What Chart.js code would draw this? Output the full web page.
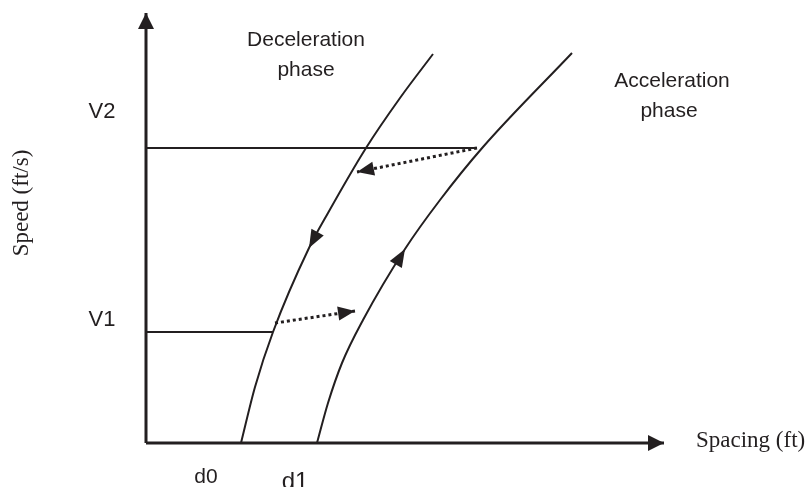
<!DOCTYPE html>
<html>
<head>
<meta charset="utf-8">
<script src="https://cdn.jsdelivr.net/npm/chart.js@4/dist/chart.umd.min.js"></script>
<style>
  html, body { margin: 0; padding: 0; background: #fff; }
  #wrap { width: 809px; height: 487px; position: relative; }
</style>
</head>
<body>
<div id="wrap"><canvas id="chart"></canvas></div>
<script>
// Spacing (x) vs speed (y) schematic.
// origin at the corner of the two axes.
var axisSpacing = [[0, 0], [518, 0]];
var axisSpeed = [[0, 0], [0, 430]];

var speedLabels = ['V1', 'V2'];
var speedLevels = [111, 295];
var spacingLabels = ['d0', 'd1'];

var v1Line = [[0, 111], [127, 111]];
var v2Line = [[0, 295], [331, 295]];

var decelCurve = [[95, 0], [109, 56], [127, 111], [163, 195], [182, 230], [220, 295], [254, 345], [287, 389]];
var accelCurve = [[171, 0], [182, 40], [196, 80], [217, 123], [259, 194], [294, 243], [337, 296], [426, 390]];

// dotted transitions between the two phases
var shiftDown = [[331, 295], [211, 271]];  // at V2, toward deceleration curve
var shiftUp = [[129, 120], [209, 132]];    // at V1, toward acceleration curve

var phaseTitles = ['Deceleration', 'phase', 'Acceleration', 'phase'];
var axisTitles = ['Spacing (ft)', 'Speed (ft/s)'];

var INK = '#231f20';

function pts(arr) {
  return arr.map(function(p) { return { x: p[0], y: p[1] }; });
}

function line(data, opts) {
  var ds = {
    data: pts(data),
    showLine: true,
    borderColor: INK,
    borderWidth: 2,
    pointRadius: 0,
    fill: false,
    tension: 0
  };
  for (var k in opts) ds[k] = opts[k];
  return ds;
}

// arrowheads drawn at a dataset point, pointing from `from` index to `at` index
var arrowPlugin = {
  id: 'arrows',
  afterDatasetsDraw: function(chart) {
    var ctx = chart.ctx;
    var xs = chart.scales.x, ys = chart.scales.y;
    chart.data.datasets.forEach(function(ds) {
      if (!ds.arrow) return;
      var a = ds.arrow;
      var tip = ds.data[a.at], prev = ds.data[a.from];
      var tx = xs.getPixelForValue(tip.x), ty = ys.getPixelForValue(tip.y);
      var px = xs.getPixelForValue(prev.x), py = ys.getPixelForValue(prev.y);
      var ang = Math.atan2(ty - py, tx - px);
      var bx = tx - Math.cos(ang) * a.len, by = ty - Math.sin(ang) * a.len;
      var nx = -Math.sin(ang) * a.width / 2, ny = Math.cos(ang) * a.width / 2;
      ctx.save();
      ctx.fillStyle = INK;
      ctx.beginPath();
      ctx.moveTo(tx, ty);
      ctx.lineTo(bx + nx, by + ny);
      ctx.lineTo(bx - nx, by - ny);
      ctx.closePath();
      ctx.fill();
      ctx.restore();
    });
  }
};

// text placed in data units through the scales
var sans = '"Liberation Sans", Arial, sans-serif';
var serif = '"Liberation Serif", "Times New Roman", serif';
var textItems = [
  { text: phaseTitles[0], x: 160, y: 397, font: '21px ' + sans, align: 'center' },
  { text: phaseTitles[1], x: 160, y: 367, font: '21px ' + sans, align: 'center' },
  { text: phaseTitles[2], x: 526, y: 356, font: '21px ' + sans, align: 'center' },
  { text: phaseTitles[3], x: 523, y: 326, font: '21px ' + sans, align: 'center' },
  { text: speedLabels[1], x: -44, y: speedLevels[1] + 30, font: '22px ' + sans, align: 'center' },
  { text: speedLabels[0], x: -44, y: speedLevels[0] + 6, font: '22px ' + sans, align: 'center' },
  { text: spacingLabels[0], x: 60, y: -40, font: '21px ' + sans, align: 'center' },
  { text: spacingLabels[1], x: 149, y: -46, font: '24px ' + sans, align: 'center' },
  { text: axisTitles[0], x: 550, y: -4, font: '23px ' + serif, align: 'left' },
  { text: axisTitles[1], x: -124, y: 240, font: '23px ' + serif, align: 'center', rotate: true }
];

var textPlugin = {
  id: 'texts',
  afterDraw: function(chart) {
    var ctx = chart.ctx;
    var xs = chart.scales.x, ys = chart.scales.y;
    textItems.forEach(function(t) {
      var x = xs.getPixelForValue(t.x), y = ys.getPixelForValue(t.y);
      ctx.save();
      ctx.fillStyle = INK;
      ctx.font = t.font;
      ctx.textAlign = t.align;
      if (t.rotate) {
        ctx.translate(x, y);
        ctx.rotate(-Math.PI / 2);
        ctx.textBaseline = 'middle';
        ctx.fillText(t.text, 0, 0);
      } else {
        ctx.textBaseline = 'alphabetic';
        ctx.fillText(t.text, x, y);
      }
      ctx.restore();
    });
  }
};

var datasets = [
  line(axisSpacing, { borderWidth: 3, arrow: { at: 1, from: 0, len: 16, width: 16 } }),
  line(axisSpeed, { borderWidth: 3, arrow: { at: 1, from: 0, len: 16, width: 16 } }),
  line(v1Line, {}),
  line(v2Line, {}),
  line(decelCurve, { cubicInterpolationMode: 'monotone', arrow: { at: 3, from: 4, len: 18, width: 14 } }),
  line(accelCurve, { cubicInterpolationMode: 'monotone', arrow: { at: 4, from: 3, len: 18, width: 14 } }),
  line(shiftDown, { borderWidth: 3, borderDash: [3, 3], arrow: { at: 1, from: 0, len: 17, width: 14 } }),
  line(shiftUp, { borderWidth: 3, borderDash: [3, 3], arrow: { at: 1, from: 0, len: 17, width: 14 } })
];

new Chart(document.getElementById('chart'), {
  type: 'scatter',
  data: { datasets: datasets },
  options: {
    responsive: true,
    maintainAspectRatio: false,
    animation: false,
    layout: { padding: 0 },
    plugins: { legend: { display: false }, tooltip: { enabled: false } },
    scales: {
      x: { type: 'linear', min: -146, max: 663, display: false },
      y: { type: 'linear', min: -44, max: 443, display: false }
    }
  },
  plugins: [arrowPlugin, textPlugin]
});
</script>
</body>
</html>
